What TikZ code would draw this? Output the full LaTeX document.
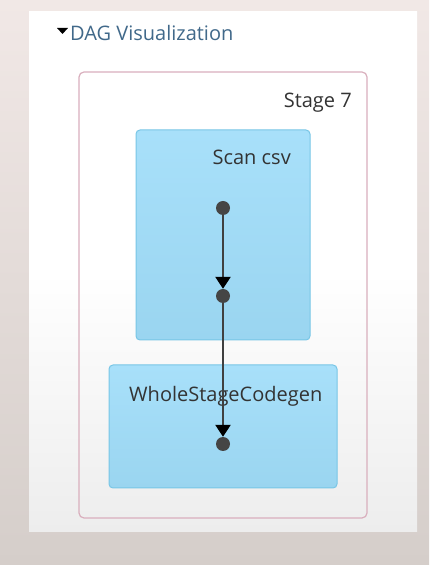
\documentclass[tikz,border=0pt]{standalone}
\usepackage{fontspec}
\setmainfont{Open Sans}
\usetikzlibrary{arrows.meta}
\definecolor{bgtop}{HTML}{F1E8E6}
\definecolor{bgbot}{HTML}{D5CECA}
\definecolor{panelbot}{HTML}{EDEDED}
\definecolor{stageline}{HTML}{D9AFBD}
\definecolor{boxtop}{HTML}{A8E0FA}
\definecolor{boxbot}{HTML}{9AD5F0}
\definecolor{boxline}{HTML}{78C6E6}
\definecolor{titleblue}{HTML}{41698A}
\definecolor{txtgray}{HTML}{333333}
\definecolor{edgegray}{HTML}{404040}
\definecolor{dotgray}{HTML}{454545}
\begin{document}
\begin{tikzpicture}[x=1pt,y=1pt,
  clusterbox/.style={draw=boxline,line width=1pt,rounded corners=4pt,top color=boxtop,bottom color=boxbot},
  dagdot/.style={circle,fill=dotgray,minimum size=14pt,inner sep=0pt},
  dagedge/.style={draw=edgegray,line width=2.6pt,-{Triangle[width=15pt,length=12pt,fill=black,color=black]}},
  lbl/.style={font=\fontsize{20}{24}\selectfont,text=txtgray,inner sep=0pt}]
\useasboundingbox (0,0) rectangle (429,565);
% background
\shade[top color=bgtop,bottom color=bgbot] (0,0) rectangle (429,565);
\shade[top color=white,bottom color=panelbot,middle color=white] (29,33) rectangle (417,553);
% title
\node[font=\fontsize{20}{24}\selectfont,text=titleblue,anchor=base west,inner sep=0pt] (title) at (70,524) {DAG Visualization};
\fill[black] (57,537) -- (68,537) -- (62.5,531) -- cycle;
% stage
\draw[draw=stageline,line width=1.2pt,rounded corners=5pt] (79,47) rectangle (367,493);
\node[lbl,anchor=base east] (stagelbl) at (352,457) {Stage 7};
% clusters
\path[clusterbox] (136,225) rectangle (310,435);
\node[lbl,anchor=base east] (scanlbl) at (291,400) {Scan csv};
\path[clusterbox] (109,77) rectangle (337,200);
\node[lbl,anchor=base west] (wsclbl) at (129,163) {WholeStageCodegen};
% dots
\node[dagdot] (d1) at (223,357) {};
\node[dagdot] (d2) at (223,269) {};
\node[dagdot] (d3) at (223,121) {};
\draw[dagedge] (d1) -- (d2);
\draw[dagedge] (d2) -- (d3);
\end{tikzpicture}
\end{document}
